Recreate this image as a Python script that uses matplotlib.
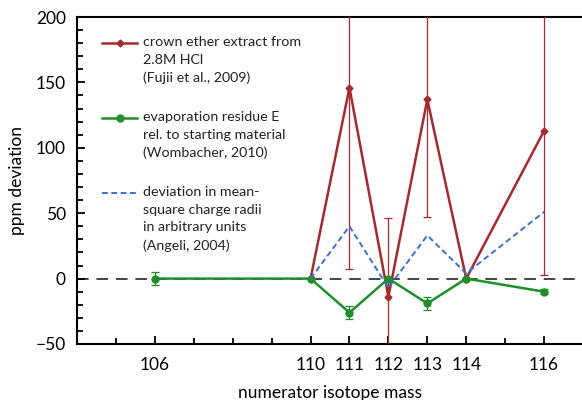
import matplotlib
matplotlib.use("Agg")
import matplotlib.pyplot as plt
from matplotlib.ticker import MultipleLocator, FixedLocator
import numpy as np

plt.rcParams['font.family'] = ['Lato', 'DejaVu Sans']

# Crown ether extract (Fujii et al., 2009)
red_x = [110, 111, 112, 113, 114, 116]
red_y = [0, 146, -14, 137, 0, 113]
red_err = [0, 139, 60, 90, 0, 110]

# Evaporation residue (Wombacher, 2010)
green_x = [106, 110, 111, 112, 113, 114, 116]
green_y = [0, 0, -26, 0, -19, 0, -10]
green_err = [5, 0, 5, 0, 5, 0, 2]

# Mean-square charge radii (Angeli, 2004)
blue_x = [110, 111, 112, 113, 114, 116]
blue_y = [0, 40, -7, 33, 4, 51]

xtick_labels = [106, 110, 111, 112, 113, 114, 116]

red_c = '#a8282d'
green_c = '#1f8f2a'
blue_c = '#3a6fd8'

fig = plt.figure(figsize=(5.82, 4.0), dpi=100)
ax = fig.add_axes([77/582, 1-344/400, 506/582, 327/400])

ax.axhline(0, color='#444444', lw=1.4, ls=(0, (6, 4)), zorder=1)

ax.errorbar(red_x, red_y, yerr=red_err, color=red_c, lw=1.8, elinewidth=0.9,
            capsize=3, capthick=0.9, marker='D', ms=3.5, zorder=3)
ax.errorbar(green_x, green_y, yerr=green_err, color=green_c, lw=1.8, elinewidth=0.9,
            capsize=3, capthick=0.9, marker='o', ms=5, zorder=4)
ax.plot(blue_x, blue_y, color=blue_c, lw=1.4, ls=(0, (3, 1.8)), zorder=5)

ax.set_xlim(104, 117)
ax.set_ylim(-50, 200)
ax.xaxis.set_major_locator(FixedLocator(xtick_labels))
ax.xaxis.set_minor_locator(MultipleLocator(1))
ax.yaxis.set_major_locator(MultipleLocator(50))
ax.yaxis.set_minor_locator(MultipleLocator(10))
ax.tick_params(axis='both', which='both', direction='in', width=1.3)
ax.tick_params(axis='both', which='major', length=6, labelsize=12.5)
ax.tick_params(axis='x', which='major', pad=9)
ax.tick_params(axis='y', which='major', pad=8)
ax.tick_params(axis='both', which='minor', length=4)
ax.tick_params(axis='y', which='both', right=False)
ax.tick_params(axis='x', which='both', top=False)
for s in ax.spines.values():
    s.set_linewidth(1.5)
ax.spines['right'].set_linewidth(0.6)
ax.spines['right'].set_color('#cccccc')

ax.set_ylabel('ppm deviation', fontsize=12.5, labelpad=8)
ax.set_xlabel('numerator isotope mass', fontsize=12.5, labelpad=9)

# manual legend
tr = ax.transAxes
entries = [
    (0.920, red_c, '-', 'D', 3.5, 'crown ether extract from\n2.8M HCl\n(Fujii et al., 2009)'),
    (0.691, green_c, '-', 'o', 5, 'evaporation residue E\nrel. to starting material\n(Wombacher, 2010)'),
    (0.462, blue_c, (0, (3, 1.8)), None, 0, 'deviation in mean-\nsquare charge radii\nin arbitrary units\n(Angeli, 2004)'),
]
for yy, c, ls, mk, ms, lab in entries:
    ax.plot([0.049, 0.119], [yy, yy], transform=tr, color=c, ls=ls, lw=1.8 if mk else 1.4, clip_on=False)
    if mk:
        ax.plot([0.084], [yy], transform=tr, color=c, marker=mk, ms=ms)
    ax.text(0.130, yy + 0.022, lab, transform=tr, fontsize=10.3, va='top', ha='left',
            linespacing=1.58, color='#222222')

fig.savefig('out.png', dpi=100)
